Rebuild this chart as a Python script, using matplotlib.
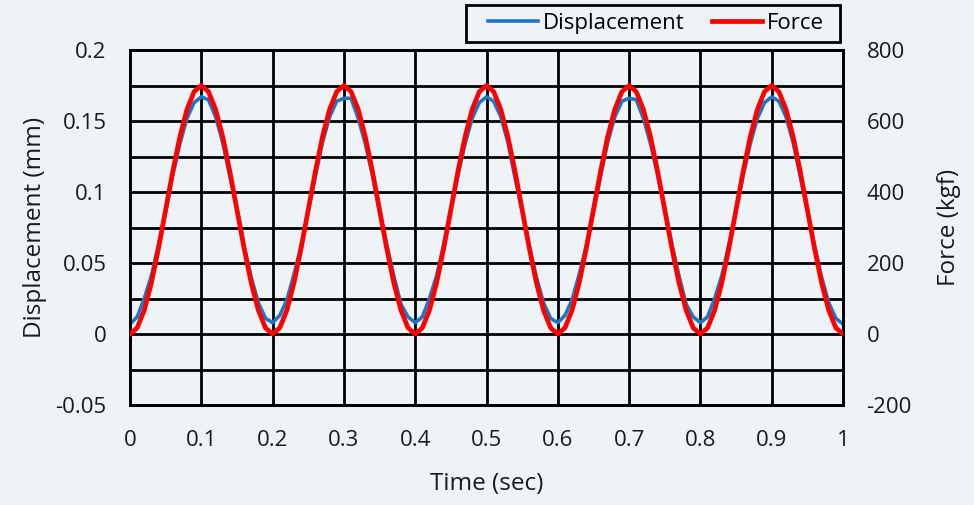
import matplotlib
matplotlib.use('Agg')
import matplotlib.pyplot as plt
import numpy as np

plt.rcParams['font.family'] = ['Open Sans', 'DejaVu Sans']

# time axis, 0..1 s every 0.01 s
time = [round(i * 0.01, 2) for i in range(101)]

# force in kgf
force = [0, 17, 67, 144, 242, 350, 458, 556, 633, 683, 700, 683, 633, 556, 458, 350, 242, 144, 67, 17,
         0, 17, 67, 144, 242, 350, 458, 556, 633, 683, 700, 683, 633, 556, 458, 350, 242, 144, 67, 17,
         0, 17, 67, 144, 242, 350, 458, 556, 633, 683, 700, 683, 633, 556, 458, 350, 242, 144, 67, 17,
         0, 17, 67, 144, 242, 350, 458, 556, 633, 683, 700, 683, 633, 556, 458, 350, 242, 144, 67, 17,
         0, 17, 67, 144, 242, 350, 458, 556, 633, 683, 700, 683, 633, 556, 458, 350, 242, 144, 67, 17,
         0]

# displacement in mm
displacement = [0.007, 0.012, 0.025, 0.041, 0.063, 0.086, 0.112, 0.134, 0.152, 0.163, 0.167, 0.165, 0.153, 0.135, 0.111, 0.088, 0.062, 0.040, 0.022, 0.011,
                0.008, 0.013, 0.024, 0.042, 0.062, 0.087, 0.111, 0.135, 0.153, 0.164, 0.166, 0.166, 0.152, 0.134, 0.112, 0.086, 0.063, 0.041, 0.021, 0.012,
                0.008, 0.012, 0.025, 0.041, 0.063, 0.088, 0.112, 0.134, 0.152, 0.163, 0.167, 0.164, 0.153, 0.135, 0.110, 0.087, 0.062, 0.040, 0.022, 0.011,
                0.008, 0.013, 0.024, 0.042, 0.062, 0.086, 0.111, 0.135, 0.153, 0.164, 0.166, 0.165, 0.152, 0.134, 0.112, 0.088, 0.063, 0.041, 0.021, 0.012,
                0.008, 0.012, 0.025, 0.041, 0.063, 0.087, 0.112, 0.134, 0.152, 0.163, 0.167, 0.164, 0.153, 0.135, 0.111, 0.087, 0.062, 0.040, 0.022, 0.011,
                0.007]

x_ticks = [0, 0.1, 0.2, 0.3, 0.4, 0.5, 0.6, 0.7, 0.8, 0.9, 1.0]
x_labels = ['0', '0.1', '0.2', '0.3', '0.4', '0.5', '0.6', '0.7', '0.8', '0.9', '1']
y_ticks = [-0.05, 0, 0.05, 0.1, 0.15, 0.2]
y_labels = ['-0.05', '0', '0.05', '0.1', '0.15', '0.2']
y2_ticks = [-200, 0, 200, 400, 600, 800]
y2_labels = ['-200', '0', '200', '400', '600', '800']

bg = '#eef3f8'
txt = '#1a1a1a'
fs = 16
fs_title = 17.5

fig = plt.figure(figsize=(9.74, 5.05), dpi=100, facecolor=bg)
ax = fig.add_axes([130 / 974, 100 / 505, 713 / 974, 355 / 505])
ax.set_facecolor(bg)
ax2 = ax.twinx()

ax.set_xlim(0, 1)
ax.set_ylim(-0.05, 0.2)
ax2.set_ylim(-200, 800)

ax.set_xticks(x_ticks)
ax.set_xticklabels(x_labels)
ax.set_yticks(y_ticks)
ax.set_yticklabels(y_labels)
ax.set_yticks([-0.025, 0.025, 0.075, 0.125, 0.175], minor=True)
ax2.set_yticks(y2_ticks)
ax2.set_yticklabels(y2_labels)

ax.grid(True, which='both', color='black', linewidth=2.0)
ax.set_axisbelow(True)

for a in (ax, ax2):
    a.tick_params(which='both', length=0, labelsize=fs, pad=17, colors=txt)
    for s in a.spines.values():
        s.set_color('black')
        s.set_linewidth(2.0)
ax.tick_params(axis='x', pad=18)

ax2.plot(time, force, color='#ff0000', linewidth=3.4, zorder=3)
ax.plot(time, displacement, color='#1f77c4', linewidth=2.6, zorder=2)

ax.set_xlabel('Time (sec)', fontsize=fs_title, labelpad=15, color=txt)
ax.set_ylabel('Displacement (mm)', fontsize=fs_title, labelpad=6, color=txt)
ax2.set_ylabel('Force (kgf)', fontsize=fs_title, labelpad=18, color=txt)

h1, = ax.plot([], [], color='#1f77c4', linewidth=2.6, label='Displacement')
h2, = ax.plot([], [], color='#ff0000', linewidth=3.4, label='Force')
fig.legend(handles=[h1, h2], ncol=2, loc='center',
           bbox_to_anchor=(656 / 974, 1 - 23.5 / 505), fontsize=fs,
           frameon=False, borderpad=0, borderaxespad=0, handlelength=2.25,
           columnspacing=1.2, handletextpad=0.22)
fig.add_artist(plt.Rectangle((466 / 974, (505 - 42) / 505), 374 / 974, 37 / 505,
                             transform=fig.transFigure, fill=False,
                             edgecolor='black', linewidth=2.0))

fig.savefig('out.png', dpi=100, facecolor=bg)
